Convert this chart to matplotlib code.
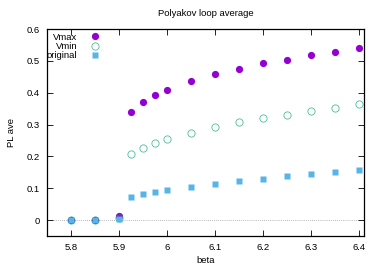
import numpy as np
import matplotlib
matplotlib.use("Agg")
import matplotlib.pyplot as plt

plt.rcParams['font.family'] = ['Liberation Sans', 'DejaVu Sans']

beta = [5.8, 5.85, 5.9, 5.925, 5.95, 5.975, 6.0, 6.05, 6.1, 6.15, 6.2, 6.25, 6.3, 6.35, 6.4]
vmax = [0.0, 0.0, 0.013, 0.340, 0.371, 0.394, 0.410, 0.437, 0.458, 0.475, 0.492, 0.504, 0.517, 0.529, 0.540]
vmin = [0.0, 0.0, 0.005, 0.206, 0.227, 0.243, 0.254, 0.274, 0.292, 0.307, 0.320, 0.331, 0.342, 0.353, 0.363]
original = [0.0, 0.0, 0.002, 0.072, 0.081, 0.087, 0.093, 0.104, 0.113, 0.122, 0.130, 0.137, 0.144, 0.151, 0.158]

fs = 6.8

fig = plt.figure(figsize=(3.82, 2.67), dpi=100)
ax = fig.add_axes([47 / 382, 1 - 236 / 267, (364 - 47) / 382, (236 - 29) / 267])

ax.axhline(0, color='#a0a0a0', lw=0.6, ls=(0, (1, 1.5)), zorder=0)

ax.plot(beta, vmax, 'o', color='#9400d3', ms=5.2, mec='none', label='Vmax')
ax.plot(beta, vmin, 'o', color='#009e73', ms=5.2, mfc='none', mew=0.6, alpha=0.7, label='Vmin')
ax.plot(beta, original, 's', color='#56b4e9', ms=4.8, mec='none', label='original')

ax.set_xlim(5.75, 6.41)
ax.set_ylim(-0.05, 0.6)
ax.set_xticks([5.8, 5.9, 6.0, 6.1, 6.2, 6.3, 6.4])
ax.set_xticklabels(['5.8', '5.9', '6', '6.1', '6.2', '6.3', '6.4'])
ax.set_yticks([0, 0.1, 0.2, 0.3, 0.4, 0.5, 0.6])
ax.set_yticklabels(['0', '0.1', '0.2', '0.3', '0.4', '0.5', '0.6'])
ax.tick_params(direction='in', top=True, right=True, length=4, width=0.6,
               labelsize=fs, pad=5, colors='black')
for s in ax.spines.values():
    s.set_linewidth(0.9)

ax.set_title('Polyakov loop average', fontsize=fs, pad=9)
ax.set_xlabel('beta', fontsize=fs, labelpad=3)
ax.set_ylabel('PL ave', fontsize=fs, labelpad=8)

ax.legend(loc='upper left', bbox_to_anchor=(-0.022, 1.015), frameon=False,
          markerfirst=False, fontsize=fs, handlelength=1.0, handletextpad=1.4,
          labelspacing=0.05, borderaxespad=0.3)

fig.savefig('out.png', dpi=100)
